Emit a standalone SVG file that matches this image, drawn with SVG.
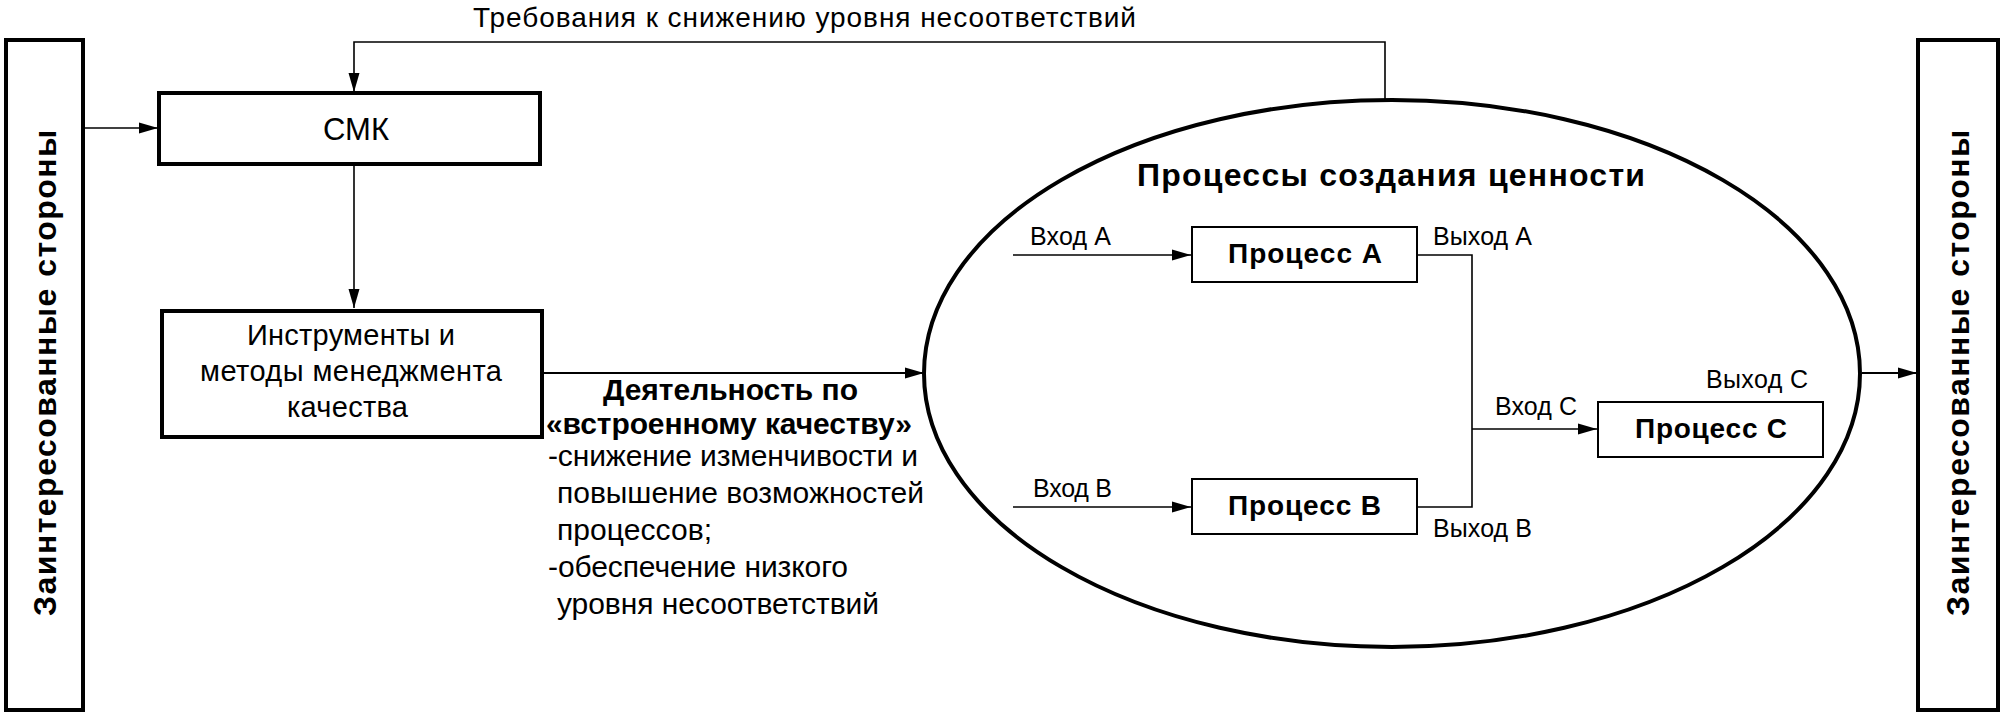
<svg xmlns="http://www.w3.org/2000/svg" width="2004" height="715" viewBox="0 0 2004 715">
<style>
  text { font-family: "Liberation Sans", Arial, sans-serif; fill: #000; }
  .b { font-weight: bold; }
  .thick { fill: #fff; stroke: #000; stroke-width: 4; }
  .thin { fill: #fff; stroke: #000; stroke-width: 2; }
  .ln { fill: none; stroke: #000; stroke-width: 1.6; }
  .ln2 { fill: none; stroke: #000; stroke-width: 2.2; }
  .side { font-size: 32px; font-weight: bold; letter-spacing: 1.6px; }
  .s25 { font-size: 25px; }
  .s29 { font-size: 29px; }
  .s30 { font-size: 30px; }
</style>
<defs>
  <marker id="arr" markerUnits="userSpaceOnUse" markerWidth="20" markerHeight="12" refX="19" refY="6" orient="auto">
    <path d="M0,0.5 L19,6 L0,11.5 z" fill="#000"/>
  </marker>
</defs>

<g id="connectors">
  <line class="ln" x1="85" y1="128" x2="158" y2="128" marker-end="url(#arr)"/>
  <polyline class="ln" points="1385,101 1385,42 354,42 354,92" marker-end="url(#arr)"/>
  <line class="ln" x1="354" y1="164" x2="354" y2="308" marker-end="url(#arr)"/>
  <line class="ln2" x1="542" y1="373" x2="924" y2="373" marker-end="url(#arr)"/>
  <line class="ln2" x1="1862" y1="373" x2="1917" y2="373" marker-end="url(#arr)"/>
  <line class="ln" x1="1013" y1="255" x2="1191" y2="255" marker-end="url(#arr)"/>
  <line class="ln" x1="1013" y1="507" x2="1191" y2="507" marker-end="url(#arr)"/>
  <polyline class="ln" points="1417,255 1472,255 1472,507 1417,507"/>
  <line class="ln" x1="1472" y1="429" x2="1597" y2="429" marker-end="url(#arr)"/>
</g>

<g id="left-stakeholders">
  <rect class="thick" x="6" y="40" width="77" height="670"/>
  <text class="side" transform="translate(56,372) rotate(-90)" text-anchor="middle" textLength="488">Заинтересованные стороны</text>
</g>

<g id="right-stakeholders">
  <rect class="thick" x="1918" y="40" width="80" height="670"/>
  <text class="side" transform="translate(1969,372) rotate(-90)" text-anchor="middle" textLength="488">Заинтересованные стороны</text>
</g>

<g id="feedback-label">
  <text x="473" y="27" font-size="28" textLength="663">Требования к снижению уровня несоответствий</text>
</g>

<g id="smk">
  <rect class="thick" x="159" y="93" width="381" height="71"/>
  <text x="356" y="140" font-size="31" text-anchor="middle">СМК</text>
</g>

<g id="tools">
  <rect class="thick" x="162" y="311" width="380" height="126"/>
  <text class="s29" x="247" y="345" textLength="208">Инструменты и</text>
  <text class="s29" x="200" y="381" textLength="302">методы менеджмента</text>
  <text class="s29" x="287" y="417" textLength="121">качества</text>
</g>

<g id="builtin-quality">
  <text class="b s30" x="603" y="400" textLength="255">Деятельность по</text>
  <text class="b s30" x="546" y="434" textLength="366">«встроенному качеству»</text>
  <text class="s30" x="548" y="466" textLength="370">-снижение изменчивости и</text>
  <text class="s30" x="557" y="503" textLength="367">повышение возможностей</text>
  <text class="s30" x="557" y="540" textLength="155">процессов;</text>
  <text class="s30" x="548" y="577" textLength="300">-обеспечение низкого</text>
  <text class="s30" x="557" y="614" textLength="322">уровня несоответствий</text>
</g>

<g id="value-processes">
  <ellipse cx="1392" cy="373.5" rx="468" ry="273.5" fill="none" stroke="#000" stroke-width="4"/>
  <text class="b" x="1137" y="186" font-size="32" textLength="508">Процессы создания ценности</text>
</g>

<g id="process-a">
  <rect class="thin" x="1192" y="227" width="225" height="55"/>
  <text class="b" x="1228" y="263" font-size="28" textLength="154">Процесс А</text>
  <text class="s25" x="1030" y="245" textLength="81">Вход А</text>
  <text class="s25" x="1433" y="245" textLength="99">Выход А</text>
</g>

<g id="process-b">
  <rect class="thin" x="1192" y="479" width="225" height="55"/>
  <text class="b" x="1228" y="515" font-size="28" textLength="153">Процесс В</text>
  <text class="s25" x="1033" y="497" textLength="79">Вход В</text>
  <text class="s25" x="1433" y="537" textLength="99">Выход В</text>
</g>

<g id="process-c">
  <rect class="thin" x="1598" y="402" width="225" height="55"/>
  <text class="b" x="1635" y="438" font-size="28" textLength="152">Процесс С</text>
  <text class="s25" x="1495" y="415" textLength="82">Вход С</text>
  <text class="s25" x="1706" y="388" textLength="102">Выход С</text>
</g>
</svg>
